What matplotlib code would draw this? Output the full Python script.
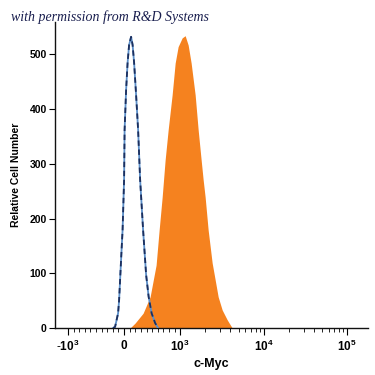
import matplotlib
matplotlib.use("Agg")
import matplotlib.pyplot as plt
import numpy as np

# Isotype control (blue dashed outline)
ctrl_x = [-196, -161, -107, -89, -45, -27, 0, 9, 36, 62, 89, 125, 152, 179, 214, 250, 286, 339, 393, 438, 491, 554, 607]
ctrl_y = [0, 2, 27, 51, 143, 179, 271, 362, 435, 484, 517, 532, 517, 484, 426, 362, 271, 179, 97, 57, 27, 9, 0]

# c-Myc stained (orange filled)
myc_x = [107, 196, 339, 464, 571, 625, 679, 732, 786, 857, 911, 964, 1057, 1148, 1247, 1354, 1512, 1643, 1784, 1885, 1992, 2164, 2416, 2625, 2851, 3185, 3657, 4198]
myc_y = [0, 9, 27, 57, 115, 179, 239, 307, 362, 426, 484, 514, 530, 534, 517, 484, 426, 362, 307, 271, 239, 179, 119, 88, 57, 33, 15, 0]

yticks = [0, 100, 200, 300, 400, 500]
xticks = [-1000, 0, 1000, 10000, 100000]
xtick_labels = [r'$\mathbf{\text{-}10^3}$', r'$\mathbf{0}$', r'$\mathbf{10^3}$', r'$\mathbf{10^4}$', r'$\mathbf{10^5}$']

plt.rcParams['font.family'] = ['Liberation Sans', 'DejaVu Sans']
plt.rcParams['mathtext.fontset'] = 'custom'
plt.rcParams['mathtext.bf'] = 'Liberation Sans:bold'
plt.rcParams['mathtext.rm'] = 'Liberation Sans'

fig = plt.figure(figsize=(3.75, 3.75), dpi=100)
ax = fig.add_axes([0.1467, 0.1253, 0.835, 0.816])

ax.set_xscale('symlog', linthresh=1000, linscale=0.604)

ax.fill_between(myc_x, myc_y, 0, color='#f5821f', lw=0, zorder=2)
ax.plot(ctrl_x, ctrl_y, color='#5b8fc9', lw=1.3, zorder=3)
ax.plot(ctrl_x, ctrl_y, color='#1c2f5e', lw=1.3, ls=(0, (3, 2)), zorder=4)

ax.set_xlim(-1432, 178000)
ax.set_ylim(0, 559)

ax.set_yticks(yticks)
ax.set_yticklabels([str(v) for v in yticks], fontsize=7.5, fontweight='bold')
ax.set_xticks(xticks)
ax.set_xticklabels(xtick_labels, fontsize=8.5)

minor = [s * v for v in range(100, 1000, 100) for s in (-1, 1)]
for dec in (1000, 10000, 100000):
    for m in range(2, 10):
        if m * dec <= 178000:
            minor.append(m * dec)
ax.set_xticks(minor, minor=True)

ax.tick_params(axis='x', which='major', length=5, width=0.8, direction='out', pad=3)
ax.tick_params(axis='x', which='minor', length=3, width=0.6, direction='out')
ax.tick_params(axis='y', which='major', length=4, width=0.8, direction='out', pad=2)

for s in ('top', 'right'):
    ax.spines[s].set_visible(False)
for s in ('left', 'bottom'):
    ax.spines[s].set_linewidth(1.0)
    ax.spines[s].set_color('#111111')

ax.set_xlabel('c-Myc', fontsize=9, fontweight='bold', labelpad=3)
ax.set_ylabel('Relative Cell Number', fontsize=7.5, fontweight='bold', labelpad=6)

fig.text(0.03, 0.955, 'with permission from R&D Systems', fontsize=10, style='italic',
         family='Liberation Serif', color='#1a1f4f', va='center', ha='left')

fig.savefig('out.png', dpi=100)
